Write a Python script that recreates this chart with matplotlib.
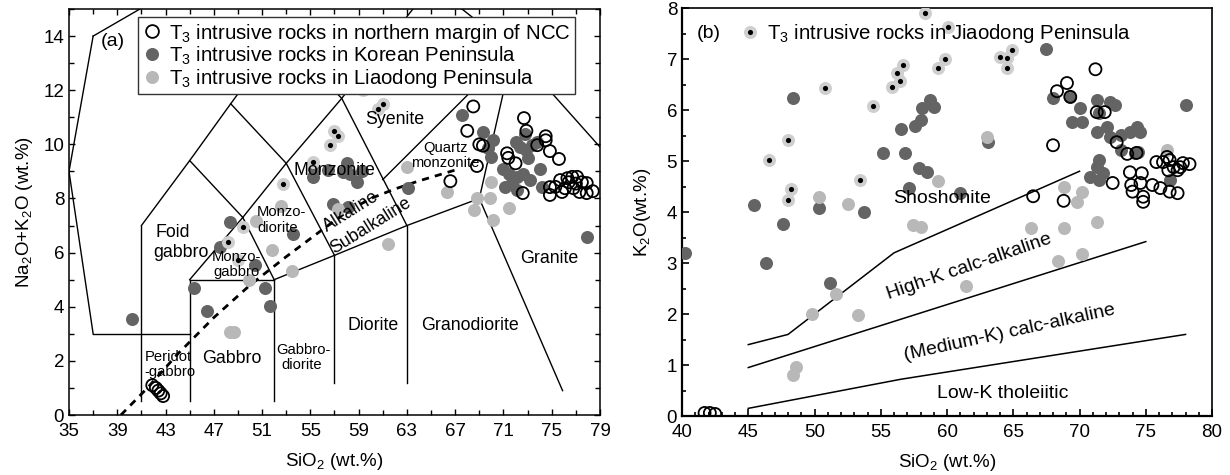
import matplotlib
matplotlib.use('Agg')
import matplotlib.pyplot as plt
from matplotlib.lines import Line2D
from matplotlib.ticker import MultipleLocator

plt.rcParams['font.family'] = ['Liberation Sans', 'DejaVu Sans']
plt.rcParams['mathtext.fontset'] = 'custom'
plt.rcParams['mathtext.rm'] = 'Liberation Sans'

# ---- (a) TAS data ----
ncc_tas_x = [41.9, 42.2, 42.4, 42.6, 42.8, 68.5, 72.7, 68.0, 72.9, 69.0, 69.3, 74.5, 74.5, 73.8,
             74.85, 71.3, 71.4, 72.0, 75.6, 68.8, 66.6, 72.6, 74.85, 74.85, 75.7, 76.3, 76.7, 77.1,
             77.5, 77.9, 78.4, 76.1, 76.8, 77.3, 77.9, 75.85, 75.3, 76.4, 77.0]
ncc_tas_y = [1.1, 1.0, 0.9, 0.8, 0.7, 11.4, 10.97, 10.5, 10.5, 10.0, 9.95, 10.3, 10.15, 9.97,
             9.75, 9.67, 9.5, 9.3, 9.46, 9.2, 8.64, 8.2, 8.42, 8.13, 8.68, 8.75, 8.8, 8.8,
             8.6, 8.57, 8.27, 8.38, 8.38, 8.24, 8.2, 8.24, 8.43, 8.6, 8.55]

kor_tas_x = [40.2, 45.35, 46.4, 51.2, 51.65, 50.4, 53.6, 48.3, 47.5, 55.2, 56.5, 58.0, 58.3, 58.9,
             59.3, 55.3, 56.9, 58.1, 63.1, 67.6, 69.3, 70.1, 69.7, 70.0, 72.0, 72.4, 72.9, 73.4,
             73.8, 71.0, 71.5, 72.1, 72.6, 73.2, 71.7, 71.1, 72.1, 74.0, 74.2, 72.8, 73.0, 57.7, 77.9]
kor_tas_y = [3.55, 4.7, 3.84, 4.7, 4.03, 5.54, 6.7, 7.13, 6.2, 8.8, 9.05, 9.3, 8.9, 8.6,
             9.0, 9.1, 7.8, 7.7, 8.4, 11.1, 10.45, 10.15, 9.86, 9.53, 10.1, 9.9, 9.8, 9.97,
             10.1, 9.1, 8.9, 8.8, 8.9, 8.7, 8.57, 8.42, 8.3, 9.1, 8.42, 10.4, 9.5, 8.98, 6.57]

lia_tas_x = [48.3, 48.7, 50.5, 51.8, 49.9, 53.5, 52.6, 61.4, 63.0, 66.3, 68.8, 68.6, 70.1, 71.5,
             70.0, 69.9, 57.3]
lia_tas_y = [3.05, 3.05, 7.17, 6.1, 4.99, 5.32, 7.72, 6.3, 9.15, 8.24, 8.0, 7.57, 7.2, 7.64,
             8.6, 8.0, 7.6]

jia_tas_x = [49.4, 48.2, 49.0, 52.7, 55.2, 56.6, 57.3, 57.0, 59.4, 61.0, 60.6, 63.9, 64.6]
jia_tas_y = [6.95, 6.4, 5.73, 8.53, 9.35, 9.97, 10.3, 10.5, 12.0, 11.5, 11.3, 12.15, 12.15]

# field boundaries (Middlemost plutonic TAS)
tas_bounds = [
    [(37, 14), (52.5, 18)],
    [(35, 9), (37, 14)],
    [(37, 3), (35, 9)],
    [(37, 3), (45, 3)],
    [(41, 0.5), (41, 7)],
    [(45, 0.5), (45, 5)],
    [(45, 5), (52, 5)],
    [(52, 0.5), (52, 5)],
    [(41, 7), (45, 9.4), (48.4, 11.5), (52.5, 14)],
    [(45, 9.4), (49.4, 7.3)],
    [(45, 5), (49.4, 7.3), (53, 9.3), (57.6, 11.7), (63.5, 15)],
    [(48.4, 11.5), (53, 9.3), (57, 5.9)],
    [(49.4, 7.3), (52, 5)],
    [(52, 5), (57, 5.9), (63, 7), (69, 8)],
    [(57, 1.2), (57, 5.9)],
    [(63, 1.2), (63, 7)],
    [(52.5, 14), (57.6, 11.7), (63, 7)],
    [(61, 8.7), (71.8, 13.5)],
    [(69, 8), (71.8, 13.5)],
    [(67, 15.2), (71.8, 13.5), (79, 9.9)],
    [(69, 8), (75.9, 0.9)],
]
irv_x = [39.3, 41.5, 44, 47, 50, 53, 56, 58, 60, 62, 64, 67]
irv_y = [0, 1.0, 2.25, 3.6, 4.8, 5.85, 6.85, 7.5, 8.0, 8.35, 8.65, 9.05]

# ---- (b) K2O-SiO2 data ----
ncc_k_x = [41.7, 42.1, 42.5, 71.2, 69.05, 68.3, 69.3, 68.0, 71.3, 71.9, 72.8, 73.6, 74.3, 73.8,
           74.7, 74.6, 72.5, 74.0, 73.9, 74.8, 74.8, 75.5, 76.1, 76.8, 77.4, 75.8, 76.3, 76.6,
           76.8, 77.1, 77.6, 77.8, 78.3, 76.7, 77.4, 66.5, 68.8]
ncc_k_y = [0.06, 0.06, 0.04, 6.8, 6.53, 6.37, 6.26, 5.31, 5.96, 5.96, 5.37, 5.14, 5.16, 4.78,
           4.76, 4.57, 4.57, 4.4, 4.53, 4.3, 4.2, 4.53, 4.47, 4.4, 4.37, 4.98, 4.98, 5.08,
           5.02, 4.88, 4.88, 4.96, 4.94, 4.82, 4.82, 4.31, 4.22]

kor_k_x = [48.4, 45.4, 47.6, 50.3, 53.7, 55.2, 56.8, 56.5, 57.6, 58.0, 58.7, 58.1, 59.0, 57.9,
           58.5, 57.1, 40.2, 46.3, 51.2, 67.5, 61.0, 63.1, 78.0, 68.0, 69.3, 70.0, 69.4, 70.2,
           71.3, 72.3, 72.7, 71.5, 71.3, 72.1, 72.3, 73.1, 73.8, 74.3, 74.6, 71.5, 71.3, 71.8,
           70.8, 71.5, 73.1, 74.2, 74.4, 76.8]
kor_k_y = [6.23, 4.14, 3.76, 4.07, 4.0, 5.15, 5.15, 5.62, 5.69, 5.8, 6.2, 6.04, 6.06, 4.86,
           4.78, 4.47, 3.2, 3.0, 2.6, 7.2, 4.37, 5.37, 6.1, 6.23, 6.26, 6.04, 5.77, 5.77,
           6.2, 6.16, 6.1, 5.94, 5.57, 5.67, 5.47, 5.51, 5.57, 5.67, 5.57, 5.02, 4.88, 4.76,
           4.69, 4.63, 5.22, 5.15, 5.18, 4.63]

lia_k_x = [63.0, 59.3, 68.8, 70.2, 69.8, 57.4, 58.0, 66.3, 68.8, 71.3, 76.6, 61.4, 68.4, 70.2,
           50.3, 52.5, 49.8, 51.6, 53.3, 48.4, 48.6]
lia_k_y = [5.47, 4.6, 4.5, 4.4, 4.2, 3.75, 3.71, 3.69, 3.69, 3.8, 5.22, 2.55, 3.04, 3.18,
           4.3, 4.16, 2.0, 2.4, 1.98, 0.8, 0.96]

jia_k_x = [58.3, 56.7, 56.2, 56.45, 55.85, 50.8, 54.4, 48.0, 46.6, 53.4, 48.2, 48.0, 60.1, 59.85,
           59.3, 64.0, 64.5, 64.5, 64.9]
jia_k_y = [7.9, 6.88, 6.72, 6.57, 6.45, 6.43, 6.08, 5.42, 5.02, 4.63, 4.45, 4.23, 7.63, 7.0,
           6.82, 7.04, 7.02, 6.82, 7.18]

shosh_x = [45, 48, 56, 70]
shosh_y = [1.4, 1.6, 3.2, 4.8]
highk_x = [45, 75]
highk_y = [0.95, 3.42]
lowk_x = [45, 56.5, 78]
lowk_y = [0.15, 0.72, 1.6]

dark = '#646464'
light = '#b8b8b8'
jlight = '#cfcfcf'
ms_s = 88


def draw_points(ax, kx, ky, lx, ly, jx, jy, nx, ny):
    ax.scatter(kx, ky, s=ms_s, color=dark, linewidths=0, zorder=3)
    ax.scatter(lx, ly, s=ms_s, color=light, linewidths=0, zorder=3)
    ax.scatter(jx, jy, s=ms_s, color=jlight, linewidths=0, zorder=3)
    ax.scatter(jx, jy, s=14, color='black', linewidths=0, zorder=3)
    ax.scatter(nx, ny, s=ms_s * 0.85, facecolors='none', edgecolors='black', linewidths=1.3, zorder=4)


fig = plt.figure(figsize=(12.3, 4.75), dpi=100)
ax1 = fig.add_axes([0.0561, 0.1263, 0.4317, 0.8547])
ax2 = fig.add_axes([0.5545, 0.1242, 0.4309, 0.8588])

# ---------- panel (a) ----------
for seg in tas_bounds:
    xs = [p[0] for p in seg]
    ys = [p[1] for p in seg]
    ax1.plot(xs, ys, color='black', lw=1.0, zorder=2)
ax1.plot(irv_x, irv_y, color='black', lw=2.0, ls=(0, (2.6, 2.2)), zorder=2)

draw_points(ax1, kor_tas_x, kor_tas_y, lia_tas_x, lia_tas_y, jia_tas_x, jia_tas_y, ncc_tas_x, ncc_tas_y)

ax1.set_xlim(35, 79)
ax1.set_ylim(0, 15)
ax1.set_xticks(list(range(35, 80, 4)))
ax1.set_xticks(list(range(37, 80, 4)), minor=True)
ax1.yaxis.set_major_locator(MultipleLocator(2))
ax1.yaxis.set_minor_locator(MultipleLocator(1))
ax1.tick_params(which='both', direction='in', top=True, right=True, labelsize=13.5)
ax1.tick_params(which='major', length=4.5, width=1)
ax1.tick_params(which='minor', length=3.5, width=1)
ax1.tick_params(axis='x', pad=6)
ax1.set_xlabel('SiO$_\\mathregular{2}$ (wt.%)', fontsize=13.5, labelpad=8)
ax1.set_ylabel('Na$_\\mathregular{2}$O+K$_\\mathregular{2}$O (wt.%)', fontsize=13.5, labelpad=6)

big = 12.8
small = 10.6
ax1.text(38.6, 13.8, '(a)', fontsize=14, ha='center', va='center')
ax1.text(43.6, 6.75, 'Foid', fontsize=big, ha='center', va='center')
ax1.text(44.3, 6.0, 'gabbro', fontsize=big, ha='center', va='center')
ax1.text(48.9, 5.85, 'Monzo-', fontsize=small, ha='center', va='center')
ax1.text(48.9, 5.3, 'gabbro', fontsize=small, ha='center', va='center')
ax1.text(52.6, 7.5, 'Monzo-', fontsize=small, ha='center', va='center')
ax1.text(52.3, 6.9, 'diorite', fontsize=small, ha='center', va='center')
ax1.text(43.2, 2.15, 'Peridot', fontsize=small, ha='center', va='center')
ax1.text(43.4, 1.6, '-gabbro', fontsize=small, ha='center', va='center')
ax1.text(48.5, 2.1, 'Gabbro', fontsize=big, ha='center', va='center')
ax1.text(54.4, 2.4, 'Gabbro-', fontsize=small, ha='center', va='center')
ax1.text(54.3, 1.85, 'diorite', fontsize=small, ha='center', va='center')
ax1.text(60.2, 3.3, 'Diorite', fontsize=big, ha='center', va='center')
ax1.text(68.2, 3.3, 'Granodiorite', fontsize=big, ha='center', va='center')
ax1.text(74.8, 5.8, 'Granite', fontsize=big, ha='center', va='center')
ax1.text(57.0, 9.05, 'Monzonite', fontsize=big, ha='center', va='center')
ax1.text(62.0, 10.9, 'Syenite', fontsize=big, ha='center', va='center')
ax1.text(66.2, 9.85, 'Quartz', fontsize=small, ha='center', va='center')
ax1.text(66.2, 9.3, 'monzonite', fontsize=small, ha='center', va='center')
ax1.text(58.4, 7.5, 'Alkaline', fontsize=big, ha='center', va='center', rotation=32,
         rotation_mode='anchor')
ax1.text(60.0, 7.0, 'Subalkaline', fontsize=big, ha='center', va='center', rotation=32,
         rotation_mode='anchor')

leg_handles = [
    Line2D([], [], ls='', marker='o', ms=9.2, mfc='white', mec='black', mew=1.3),
    Line2D([], [], ls='', marker='o', ms=9.4, mfc=dark, mec=dark, mew=0),
    Line2D([], [], ls='', marker='o', ms=9.4, mfc=light, mec=light, mew=0),
]
leg_labels = [
    'T$_\\mathregular{3}$ intrusive rocks in northern margin of NCC',
    'T$_\\mathregular{3}$ intrusive rocks in Korean Peninsula',
    'T$_\\mathregular{3}$ intrusive rocks in Liaodong Peninsula',
]
leg = ax1.legend(leg_handles, leg_labels, loc='upper left', bbox_to_anchor=(0.13, 0.98),
                 borderaxespad=0, fontsize=14.7, frameon=True, fancybox=False, framealpha=1,
                 edgecolor='#333333', handlelength=0.9, handletextpad=0.4, borderpad=0.22,
                 labelspacing=0.0)
leg.get_frame().set_linewidth(1.0)
leg.set_zorder(6)

for sp in ax1.spines.values():
    sp.set_linewidth(1.1)

# ---------- panel (b) ----------
ax2.plot(shosh_x, shosh_y, color='black', lw=1.1, zorder=2)
ax2.plot(highk_x, highk_y, color='black', lw=1.1, zorder=2)
ax2.plot(lowk_x, lowk_y, color='black', lw=1.1, zorder=2)

draw_points(ax2, kor_k_x, kor_k_y, lia_k_x, lia_k_y, jia_k_x, jia_k_y, ncc_k_x, ncc_k_y)

ax2.set_xlim(40, 80)
ax2.set_ylim(0, 8)
ax2.xaxis.set_major_locator(MultipleLocator(5))
ax2.xaxis.set_minor_locator(MultipleLocator(1))
ax2.yaxis.set_major_locator(MultipleLocator(1))
ax2.yaxis.set_minor_locator(MultipleLocator(0.5))
ax2.tick_params(which='both', direction='in', labelsize=13.5)
ax2.tick_params(which='major', length=5, width=1.2)
ax2.tick_params(which='minor', length=3, width=1.2)
ax2.tick_params(axis='x', pad=6)
ax2.set_xlabel('SiO$_\\mathregular{2}$ (wt.%)', fontsize=13.5, labelpad=8)
ax2.set_ylabel('K$_\\mathregular{2}$O(wt.%)', fontsize=13.5, labelpad=10)
ax2.spines['left'].set_linewidth(1.6)
ax2.spines['bottom'].set_linewidth(1.6)
ax2.spines['top'].set_linewidth(1.2)
ax2.spines['right'].set_linewidth(1.2)

ax2.text(42.0, 7.5, '(b)', fontsize=14, ha='center', va='center')
ax2.text(59.6, 4.27, 'Shoshonite', fontsize=14, ha='center', va='center')
ax2.text(61.7, 2.92, 'High-K calc-alkaline', fontsize=14, ha='center', va='center',
         rotation=19, rotation_mode='anchor')
ax2.text(64.75, 1.63, '(Medium-K) calc-alkaline', fontsize=14, ha='center', va='center',
         rotation=12.3, rotation_mode='anchor')
ax2.text(64.2, 0.45, 'Low-K tholeiitic', fontsize=14, ha='center', va='center')

jh = (Line2D([], [], ls='', marker='o', ms=9.4, mfc=jlight, mec=jlight, mew=0),
      Line2D([], [], ls='', marker='o', ms=3.7, mfc='black', mec='black', mew=0))
leg2 = ax2.legend([jh], ['T$_\\mathregular{3}$ intrusive rocks in Jiaodong Peninsula'],
                  loc='upper left', bbox_to_anchor=(0.095, 0.985), borderaxespad=0,
                  fontsize=14.7, frameon=False, handlelength=0.9, handletextpad=0.4)

fig.savefig('out.png', dpi=100)
